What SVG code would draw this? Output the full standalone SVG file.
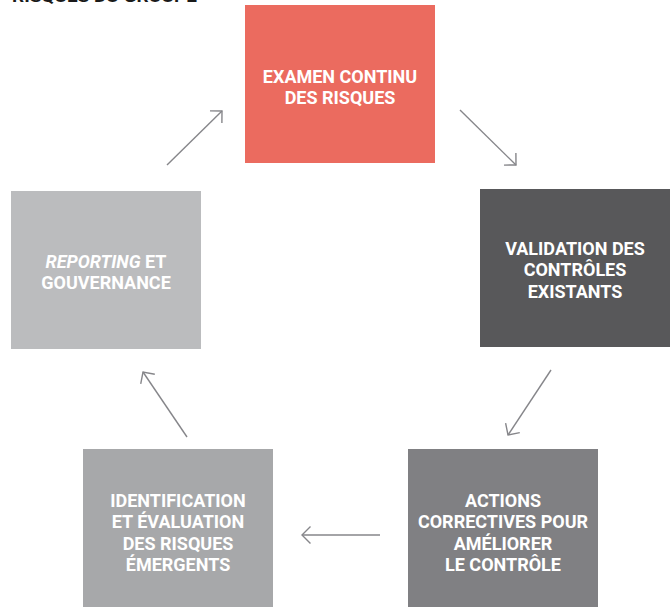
<svg xmlns="http://www.w3.org/2000/svg" width="670" height="607" viewBox="0 0 670 607">
  <defs>
    <marker id="chevron" markerUnits="userSpaceOnUse" markerWidth="24" markerHeight="24" viewBox="-12 -12 24 24" refX="0" refY="0" orient="auto">
      <path d="M-8.5,-8.5 L0,0 L-8.5,8.5" fill="none" stroke="#86868a" stroke-width="1.4"/>
    </marker>
  </defs>
  <style>
    .box-label { font-family: Roboto, "Liberation Sans", sans-serif; font-weight: 700; font-size: 18px; fill: #ffffff; text-anchor: middle; }
    .title { font-family: Roboto, "Liberation Sans", sans-serif; font-weight: 700; font-size: 17px; fill: #1a1a1a; }
    .link { fill: none; stroke: #86868a; stroke-width: 1.4; marker-end: url(#chevron); }
  </style>

  <rect width="670" height="607" fill="#ffffff"/>

  <!-- heading, clipped by the top edge -->
  <text class="title" x="12" y="2" textLength="185" lengthAdjust="spacingAndGlyphs">RISQUES DU GROUPE</text>

  <g id="examen">
    <rect x="245" y="5" width="190" height="158" fill="#eb6b5f"/>
    <text class="box-label" x="340" y="82.5">EXAMEN CONTINU</text>
    <text class="box-label" x="340" y="104">DES RISQUES</text>
  </g>

  <g id="validation">
    <rect x="480" y="189" width="190" height="158" fill="#58585a"/>
    <text class="box-label" x="575" y="254.5">VALIDATION DES</text>
    <text class="box-label" x="575" y="276">CONTRÔLES</text>
    <text class="box-label" x="575" y="297.5">EXISTANTS</text>
  </g>

  <g id="actions">
    <rect x="408" y="449" width="190" height="158" fill="#808083"/>
    <text class="box-label" x="503" y="506.5">ACTIONS</text>
    <text class="box-label" x="503" y="528">CORRECTIVES POUR</text>
    <text class="box-label" x="503" y="549.5">AMÉLIORER</text>
    <text class="box-label" x="503" y="571">LE CONTRÔLE</text>
  </g>

  <g id="identification">
    <rect x="83" y="449" width="190" height="158" fill="#a7a8aa"/>
    <text class="box-label" x="178" y="506.5">IDENTIFICATION</text>
    <text class="box-label" x="178" y="528">ET ÉVALUATION</text>
    <text class="box-label" x="178" y="549.5">DES RISQUES</text>
    <text class="box-label" x="178" y="571">ÉMERGENTS</text>
  </g>

  <g id="reporting">
    <rect x="11" y="191" width="190" height="158" fill="#bbbcbe"/>
    <text class="box-label" x="106" y="267.5"><tspan font-style="italic">REPORTING</tspan> ET</text>
    <text class="box-label" x="106" y="289">GOUVERNANCE</text>
  </g>

  <g id="connectors">
    <line class="link" x1="460" y1="110" x2="516" y2="165"/>
    <line class="link" x1="551" y1="370" x2="508" y2="435"/>
    <line class="link" x1="380" y1="535" x2="302" y2="535"/>
    <line class="link" x1="187" y1="437" x2="143" y2="372"/>
    <line class="link" x1="167" y1="165" x2="222" y2="111"/>
  </g>
</svg>
